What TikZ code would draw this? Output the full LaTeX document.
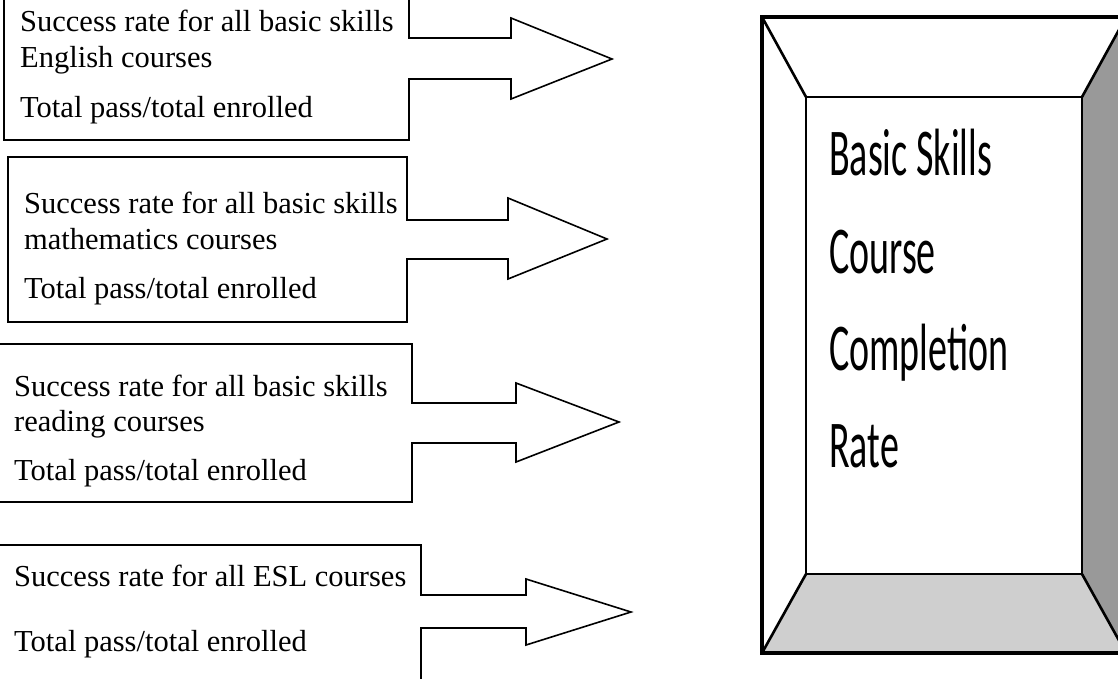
\documentclass[tikz,border=0pt]{standalone}
\usepackage{fontspec}
\setmainfont{Liberation Serif}
\newfontfamily\calibrifont{Carlito}

\begin{document}
\begin{tikzpicture}[x=1pt,y=-1pt,
  callout/.style={draw,line width=1.6pt,line join=miter},
  rowtext/.style={anchor=base west,inner sep=0pt,font=\fontsize{30.5}{36}\selectfont},
  frameline/.style={draw,line width=2.6pt,line join=miter},
  bigtext/.style={anchor=base west,inner sep=0pt,font=\calibrifont\fontsize{38}{44}\selectfont}]
\clip (0,0) rectangle (1118,678);

% measure boxes with their arrows
\draw[callout] (4,-10) -- (4,140) -- (409,140) -- (409,79) -- (511,79) -- (511,99)
    -- (612,59) -- (511,18) -- (511,38) -- (409,38) -- (409,-10);
\draw[callout] (8,157) -- (8,322) -- (407,322) -- (407,259) -- (508,259) -- (508,279)
    -- (607,239) -- (508,198) -- (508,220) -- (407,220) -- (407,157) -- cycle;
\draw[callout] (-5,344) -- (-5,502) -- (412,502) -- (412,443) -- (516,443) -- (516,462)
    -- (619,422) -- (516,383) -- (516,403) -- (412,403) -- (412,344) -- cycle;
\draw[callout] (-5,545) -- (-5,690) -- (421,690) -- (421,628) -- (526,628) -- (526,645)
    -- (631,612) -- (526,579) -- (526,595) -- (421,595) -- (421,545) -- cycle;

\node[rowtext] (eng1) at (20,31) {Success rate for all basic skills};
\node[rowtext] (eng2) at (20,67) {English courses};
\node[rowtext] (eng3) at (20,117) {Total pass/total enrolled};

\node[rowtext] (math1) at (24,213) {Success rate for all basic skills};
\node[rowtext] (math2) at (24,249) {mathematics courses};
\node[rowtext] (math3) at (24,298) {Total pass/total enrolled};

\node[rowtext] (read1) at (14,396) {Success rate for all basic skills};
\node[rowtext] (read2) at (14,431) {reading courses};
\node[rowtext] (read3) at (14,480) {Total pass/total enrolled};

\node[rowtext] (esl1) at (14,586) {Success rate for all ESL courses};
\node[rowtext] (esl2) at (14,651) {Total pass/total enrolled};

% bevelled frame
\fill[black!40] (1082,97) -- (1126,17) -- (1126,653) -- (1082,574) -- cycle;
\fill[black!19] (806,574) -- (1082,574) -- (1126,653) -- (762,653) -- cycle;
\draw[frameline] (806,97) rectangle (1082,574);
\draw[frameline] (762,17) -- (806,97) (1126,17) -- (1082,97)
    (762,653) -- (806,574) (1126,653) -- (1082,574);
\draw[frameline,line width=3.2pt] (762,17) rectangle (1126,653);

\node[bigtext] (basic) at (829,175) {\scalebox{1}[1.76]{Basic Skills}};
\node[bigtext] (course) at (829,273) {\scalebox{1}[1.76]{Course}};
\node[bigtext] (compl) at (829,370) {\scalebox{1}[1.76]{Completion}};
\node[bigtext] (rate) at (829,467) {\scalebox{1}[1.76]{Rate}};
\end{tikzpicture}
\end{document}
